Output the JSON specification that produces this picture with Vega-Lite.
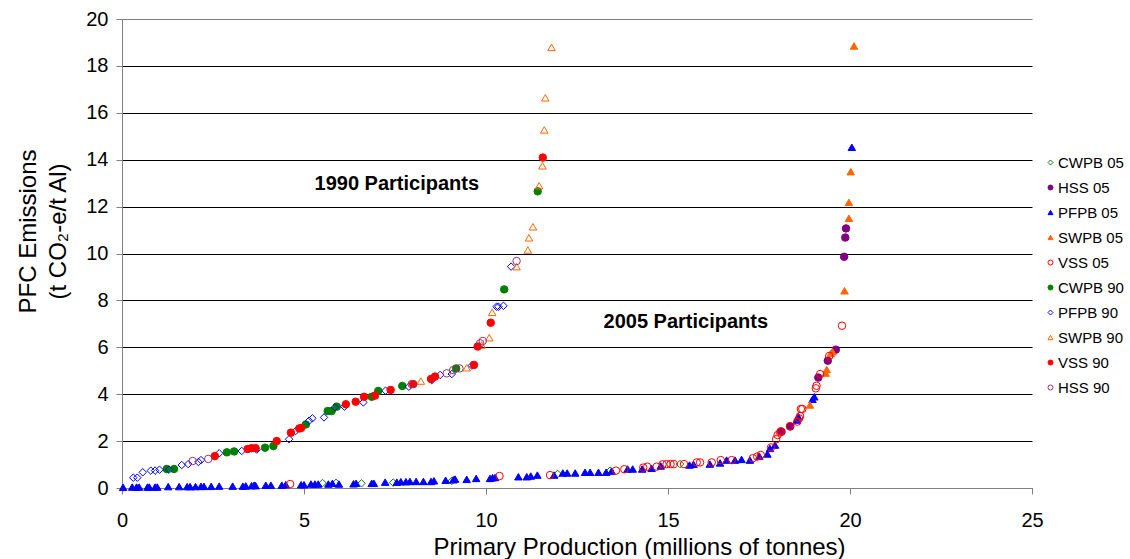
{
  "$schema": "https://vega.github.io/schema/vega-lite/v6.json",
  "width": 910,
  "height": 469,
  "autosize": {"type": "none"},
  "padding": {"left": 122, "top": 19, "right": 98, "bottom": 71},
  "background": "white",
  "config": {
    "view": {"stroke": null},
    "font": "Liberation Sans",
    "axis": {"labelFont": "Liberation Sans", "titleFont": "Liberation Sans", "labelColor": "black", "titleColor": "black"}
  },
  "datasets": {
    "smelters": [
      {"series": "CWPB 05", "production": 5.51, "pfc": 0.21},
      {"series": "CWPB 05", "production": 5.88, "pfc": 0.22},
      {"series": "CWPB 05", "production": 6.58, "pfc": 0.20},
      {"series": "CWPB 05", "production": 7.45, "pfc": 0.23},
      {"series": "CWPB 05", "production": 9.06, "pfc": 0.30},
      {"series": "CWPB 05", "production": 11.97, "pfc": 0.60},
      {"series": "CWPB 05", "production": 13.41, "pfc": 0.74},
      {"series": "CWPB 05", "production": 15.33, "pfc": 1.02},

      {"series": "HSS 05", "production": 18.12, "pfc": 2.40},
      {"series": "HSS 05", "production": 18.36, "pfc": 2.62},
      {"series": "HSS 05", "production": 19.13, "pfc": 4.71},
      {"series": "HSS 05", "production": 19.39, "pfc": 5.43},
      {"series": "HSS 05", "production": 19.61, "pfc": 5.90},
      {"series": "HSS 05", "production": 19.84, "pfc": 9.86},
      {"series": "HSS 05", "production": 19.87, "pfc": 10.68},
      {"series": "HSS 05", "production": 19.89, "pfc": 11.07},

      {"series": "PFPB 05", "production": 0.03, "pfc": 0.03},
      {"series": "PFPB 05", "production": 0.28, "pfc": 0.04},
      {"series": "PFPB 05", "production": 0.40, "pfc": 0.04},
      {"series": "PFPB 05", "production": 0.47, "pfc": 0.04},
      {"series": "PFPB 05", "production": 0.70, "pfc": 0.04},
      {"series": "PFPB 05", "production": 0.75, "pfc": 0.04},
      {"series": "PFPB 05", "production": 0.91, "pfc": 0.04},
      {"series": "PFPB 05", "production": 0.97, "pfc": 0.04},
      {"series": "PFPB 05", "production": 1.27, "pfc": 0.06},
      {"series": "PFPB 05", "production": 1.57, "pfc": 0.06},
      {"series": "PFPB 05", "production": 1.79, "pfc": 0.06},
      {"series": "PFPB 05", "production": 1.87, "pfc": 0.06},
      {"series": "PFPB 05", "production": 2.02, "pfc": 0.06},
      {"series": "PFPB 05", "production": 2.17, "pfc": 0.07},
      {"series": "PFPB 05", "production": 2.25, "pfc": 0.07},
      {"series": "PFPB 05", "production": 2.45, "pfc": 0.07},
      {"series": "PFPB 05", "production": 2.67, "pfc": 0.08},
      {"series": "PFPB 05", "production": 3.04, "pfc": 0.08},
      {"series": "PFPB 05", "production": 3.32, "pfc": 0.08},
      {"series": "PFPB 05", "production": 3.40, "pfc": 0.09},
      {"series": "PFPB 05", "production": 3.56, "pfc": 0.10},
      {"series": "PFPB 05", "production": 3.63, "pfc": 0.12},
      {"series": "PFPB 05", "production": 3.67, "pfc": 0.10},
      {"series": "PFPB 05", "production": 3.95, "pfc": 0.12},
      {"series": "PFPB 05", "production": 4.09, "pfc": 0.12},
      {"series": "PFPB 05", "production": 4.39, "pfc": 0.12},
      {"series": "PFPB 05", "production": 4.50, "pfc": 0.14},
      {"series": "PFPB 05", "production": 4.92, "pfc": 0.14},
      {"series": "PFPB 05", "production": 5.00, "pfc": 0.14},
      {"series": "PFPB 05", "production": 5.19, "pfc": 0.17},
      {"series": "PFPB 05", "production": 5.30, "pfc": 0.17},
      {"series": "PFPB 05", "production": 5.39, "pfc": 0.17},
      {"series": "PFPB 05", "production": 5.67, "pfc": 0.17},
      {"series": "PFPB 05", "production": 5.78, "pfc": 0.20},
      {"series": "PFPB 05", "production": 5.96, "pfc": 0.17},
      {"series": "PFPB 05", "production": 6.36, "pfc": 0.18},
      {"series": "PFPB 05", "production": 6.43, "pfc": 0.20},
      {"series": "PFPB 05", "production": 6.86, "pfc": 0.20},
      {"series": "PFPB 05", "production": 6.92, "pfc": 0.20},
      {"series": "PFPB 05", "production": 7.23, "pfc": 0.25},
      {"series": "PFPB 05", "production": 7.55, "pfc": 0.25},
      {"series": "PFPB 05", "production": 7.66, "pfc": 0.27},
      {"series": "PFPB 05", "production": 7.80, "pfc": 0.27},
      {"series": "PFPB 05", "production": 7.91, "pfc": 0.28},
      {"series": "PFPB 05", "production": 8.08, "pfc": 0.28},
      {"series": "PFPB 05", "production": 8.28, "pfc": 0.28},
      {"series": "PFPB 05", "production": 8.49, "pfc": 0.28},
      {"series": "PFPB 05", "production": 8.57, "pfc": 0.31},
      {"series": "PFPB 05", "production": 8.89, "pfc": 0.33},
      {"series": "PFPB 05", "production": 9.10, "pfc": 0.35},
      {"series": "PFPB 05", "production": 9.15, "pfc": 0.38},
      {"series": "PFPB 05", "production": 9.47, "pfc": 0.37},
      {"series": "PFPB 05", "production": 9.73, "pfc": 0.41},
      {"series": "PFPB 05", "production": 10.11, "pfc": 0.41},
      {"series": "PFPB 05", "production": 10.18, "pfc": 0.44},
      {"series": "PFPB 05", "production": 10.25, "pfc": 0.45},
      {"series": "PFPB 05", "production": 10.89, "pfc": 0.48},
      {"series": "PFPB 05", "production": 11.12, "pfc": 0.48},
      {"series": "PFPB 05", "production": 11.23, "pfc": 0.51},
      {"series": "PFPB 05", "production": 11.41, "pfc": 0.55},
      {"series": "PFPB 05", "production": 11.87, "pfc": 0.55},
      {"series": "PFPB 05", "production": 12.11, "pfc": 0.64},
      {"series": "PFPB 05", "production": 12.23, "pfc": 0.64},
      {"series": "PFPB 05", "production": 12.45, "pfc": 0.64},
      {"series": "PFPB 05", "production": 12.72, "pfc": 0.67},
      {"series": "PFPB 05", "production": 12.86, "pfc": 0.67},
      {"series": "PFPB 05", "production": 13.09, "pfc": 0.67},
      {"series": "PFPB 05", "production": 13.30, "pfc": 0.67},
      {"series": "PFPB 05", "production": 13.45, "pfc": 0.72},
      {"series": "PFPB 05", "production": 13.89, "pfc": 0.81},
      {"series": "PFPB 05", "production": 14.03, "pfc": 0.81},
      {"series": "PFPB 05", "production": 14.29, "pfc": 0.81},
      {"series": "PFPB 05", "production": 14.55, "pfc": 0.84},
      {"series": "PFPB 05", "production": 14.80, "pfc": 0.94},
      {"series": "PFPB 05", "production": 15.59, "pfc": 0.98},
      {"series": "PFPB 05", "production": 15.70, "pfc": 1.01},
      {"series": "PFPB 05", "production": 16.15, "pfc": 1.02},
      {"series": "PFPB 05", "production": 16.43, "pfc": 1.07},
      {"series": "PFPB 05", "production": 16.61, "pfc": 1.19},
      {"series": "PFPB 05", "production": 16.84, "pfc": 1.19},
      {"series": "PFPB 05", "production": 17.02, "pfc": 1.22},
      {"series": "PFPB 05", "production": 17.25, "pfc": 1.19},
      {"series": "PFPB 05", "production": 17.51, "pfc": 1.36},
      {"series": "PFPB 05", "production": 17.73, "pfc": 1.45},
      {"series": "PFPB 05", "production": 17.80, "pfc": 1.69},
      {"series": "PFPB 05", "production": 17.94, "pfc": 1.83},
      {"series": "PFPB 05", "production": 18.54, "pfc": 2.90},
      {"series": "PFPB 05", "production": 18.58, "pfc": 3.04},
      {"series": "PFPB 05", "production": 18.97, "pfc": 3.78},
      {"series": "PFPB 05", "production": 19.02, "pfc": 3.89},
      {"series": "PFPB 05", "production": 20.05, "pfc": 14.53},

      {"series": "SWPB 05", "production": 18.90, "pfc": 3.54},
      {"series": "SWPB 05", "production": 19.33, "pfc": 4.90},
      {"series": "SWPB 05", "production": 19.36, "pfc": 5.05},
      {"series": "SWPB 05", "production": 19.47, "pfc": 5.74},
      {"series": "SWPB 05", "production": 19.52, "pfc": 5.81},
      {"series": "SWPB 05", "production": 19.85, "pfc": 8.41},
      {"series": "SWPB 05", "production": 19.97, "pfc": 11.50},
      {"series": "SWPB 05", "production": 19.97, "pfc": 12.18},
      {"series": "SWPB 05", "production": 20.02, "pfc": 13.49},
      {"series": "SWPB 05", "production": 20.11, "pfc": 18.85},

      {"series": "VSS 05", "production": 4.62, "pfc": 0.17},
      {"series": "VSS 05", "production": 10.37, "pfc": 0.51},
      {"series": "VSS 05", "production": 11.76, "pfc": 0.55},
      {"series": "VSS 05", "production": 13.57, "pfc": 0.74},
      {"series": "VSS 05", "production": 13.80, "pfc": 0.80},
      {"series": "VSS 05", "production": 14.32, "pfc": 0.87},
      {"series": "VSS 05", "production": 14.43, "pfc": 0.91},
      {"series": "VSS 05", "production": 14.69, "pfc": 0.91},
      {"series": "VSS 05", "production": 14.85, "pfc": 1.01},
      {"series": "VSS 05", "production": 14.96, "pfc": 1.02},
      {"series": "VSS 05", "production": 15.07, "pfc": 1.02},
      {"series": "VSS 05", "production": 15.16, "pfc": 1.02},
      {"series": "VSS 05", "production": 15.44, "pfc": 1.02},
      {"series": "VSS 05", "production": 15.79, "pfc": 1.09},
      {"series": "VSS 05", "production": 15.88, "pfc": 1.09},
      {"series": "VSS 05", "production": 16.20, "pfc": 1.09},
      {"series": "VSS 05", "production": 16.45, "pfc": 1.19},
      {"series": "VSS 05", "production": 16.75, "pfc": 1.19},
      {"series": "VSS 05", "production": 17.33, "pfc": 1.27},
      {"series": "VSS 05", "production": 17.45, "pfc": 1.34},
      {"series": "VSS 05", "production": 17.55, "pfc": 1.41},
      {"series": "VSS 05", "production": 17.83, "pfc": 1.73},
      {"series": "VSS 05", "production": 17.97, "pfc": 2.08},
      {"series": "VSS 05", "production": 18.01, "pfc": 2.26},
      {"series": "VSS 05", "production": 18.08, "pfc": 2.37},
      {"series": "VSS 05", "production": 18.10, "pfc": 2.42},
      {"series": "VSS 05", "production": 18.35, "pfc": 2.64},
      {"series": "VSS 05", "production": 18.55, "pfc": 2.83},
      {"series": "VSS 05", "production": 18.60, "pfc": 2.97},
      {"series": "VSS 05", "production": 18.63, "pfc": 3.07},
      {"series": "VSS 05", "production": 18.65, "pfc": 3.37},
      {"series": "VSS 05", "production": 18.69, "pfc": 3.37},
      {"series": "VSS 05", "production": 19.06, "pfc": 4.25},
      {"series": "VSS 05", "production": 19.08, "pfc": 4.36},
      {"series": "VSS 05", "production": 19.18, "pfc": 4.86},
      {"series": "VSS 05", "production": 19.43, "pfc": 5.63},
      {"series": "VSS 05", "production": 19.78, "pfc": 6.92},

      {"series": "CWPB 90", "production": 1.23, "pfc": 0.81},
      {"series": "CWPB 90", "production": 1.43, "pfc": 0.81},
      {"series": "CWPB 90", "production": 2.88, "pfc": 1.52},
      {"series": "CWPB 90", "production": 3.08, "pfc": 1.56},
      {"series": "CWPB 90", "production": 3.93, "pfc": 1.72},
      {"series": "CWPB 90", "production": 4.16, "pfc": 1.79},
      {"series": "CWPB 90", "production": 5.05, "pfc": 2.71},
      {"series": "CWPB 90", "production": 5.65, "pfc": 3.28},
      {"series": "CWPB 90", "production": 5.76, "pfc": 3.28},
      {"series": "CWPB 90", "production": 5.90, "pfc": 3.47},
      {"series": "CWPB 90", "production": 6.86, "pfc": 3.89},
      {"series": "CWPB 90", "production": 7.04, "pfc": 4.14},
      {"series": "CWPB 90", "production": 7.70, "pfc": 4.35},
      {"series": "CWPB 90", "production": 9.18, "pfc": 5.10},
      {"series": "CWPB 90", "production": 10.50, "pfc": 8.47},
      {"series": "CWPB 90", "production": 11.42, "pfc": 12.65},

      {"series": "PFPB 90", "production": 0.31, "pfc": 0.44},
      {"series": "PFPB 90", "production": 0.42, "pfc": 0.44},
      {"series": "PFPB 90", "production": 0.57, "pfc": 0.67},
      {"series": "PFPB 90", "production": 0.79, "pfc": 0.74},
      {"series": "PFPB 90", "production": 0.91, "pfc": 0.74},
      {"series": "PFPB 90", "production": 1.03, "pfc": 0.78},
      {"series": "PFPB 90", "production": 1.29, "pfc": 0.78},
      {"series": "PFPB 90", "production": 1.64, "pfc": 0.98},
      {"series": "PFPB 90", "production": 1.82, "pfc": 1.02},
      {"series": "PFPB 90", "production": 2.10, "pfc": 1.11},
      {"series": "PFPB 90", "production": 2.17, "pfc": 1.19},
      {"series": "PFPB 90", "production": 2.67, "pfc": 1.48},
      {"series": "PFPB 90", "production": 3.29, "pfc": 1.58},
      {"series": "PFPB 90", "production": 3.70, "pfc": 1.64},
      {"series": "PFPB 90", "production": 4.59, "pfc": 2.08},
      {"series": "PFPB 90", "production": 4.77, "pfc": 2.43},
      {"series": "PFPB 90", "production": 5.14, "pfc": 2.87},
      {"series": "PFPB 90", "production": 5.23, "pfc": 2.97},
      {"series": "PFPB 90", "production": 5.55, "pfc": 3.01},
      {"series": "PFPB 90", "production": 5.85, "pfc": 3.44},
      {"series": "PFPB 90", "production": 6.11, "pfc": 3.47},
      {"series": "PFPB 90", "production": 6.63, "pfc": 3.65},
      {"series": "PFPB 90", "production": 7.24, "pfc": 4.15},
      {"series": "PFPB 90", "production": 7.88, "pfc": 4.32},
      {"series": "PFPB 90", "production": 8.51, "pfc": 4.60},
      {"series": "PFPB 90", "production": 8.74, "pfc": 4.82},
      {"series": "PFPB 90", "production": 9.06, "pfc": 4.86},
      {"series": "PFPB 90", "production": 9.61, "pfc": 5.22},
      {"series": "PFPB 90", "production": 10.29, "pfc": 7.73},
      {"series": "PFPB 90", "production": 10.34, "pfc": 7.73},
      {"series": "PFPB 90", "production": 10.48, "pfc": 7.77},
      {"series": "PFPB 90", "production": 10.69, "pfc": 9.44},

      {"series": "SWPB 90", "production": 8.21, "pfc": 4.56},
      {"series": "SWPB 90", "production": 9.47, "pfc": 5.13},
      {"series": "SWPB 90", "production": 9.88, "pfc": 6.10},
      {"series": "SWPB 90", "production": 10.09, "pfc": 6.41},
      {"series": "SWPB 90", "production": 10.17, "pfc": 7.49},
      {"series": "SWPB 90", "production": 10.84, "pfc": 9.44},
      {"series": "SWPB 90", "production": 11.15, "pfc": 10.15},
      {"series": "SWPB 90", "production": 11.18, "pfc": 10.67},
      {"series": "SWPB 90", "production": 11.29, "pfc": 11.14},
      {"series": "SWPB 90", "production": 11.46, "pfc": 12.89},
      {"series": "SWPB 90", "production": 11.55, "pfc": 13.74},
      {"series": "SWPB 90", "production": 11.60, "pfc": 15.27},
      {"series": "SWPB 90", "production": 11.63, "pfc": 16.64},
      {"series": "SWPB 90", "production": 11.80, "pfc": 18.79},

      {"series": "VSS 90", "production": 2.55, "pfc": 1.36},
      {"series": "VSS 90", "production": 3.45, "pfc": 1.66},
      {"series": "VSS 90", "production": 3.56, "pfc": 1.70},
      {"series": "VSS 90", "production": 3.67, "pfc": 1.70},
      {"series": "VSS 90", "production": 4.25, "pfc": 2.00},
      {"series": "VSS 90", "production": 4.64, "pfc": 2.36},
      {"series": "VSS 90", "production": 4.87, "pfc": 2.54},
      {"series": "VSS 90", "production": 4.92, "pfc": 2.56},
      {"series": "VSS 90", "production": 6.15, "pfc": 3.57},
      {"series": "VSS 90", "production": 6.42, "pfc": 3.68},
      {"series": "VSS 90", "production": 6.65, "pfc": 3.89},
      {"series": "VSS 90", "production": 6.95, "pfc": 3.94},
      {"series": "VSS 90", "production": 7.38, "pfc": 4.18},
      {"series": "VSS 90", "production": 8.00, "pfc": 4.43},
      {"series": "VSS 90", "production": 8.49, "pfc": 4.65},
      {"series": "VSS 90", "production": 8.60, "pfc": 4.75},
      {"series": "VSS 90", "production": 9.67, "pfc": 5.25},
      {"series": "VSS 90", "production": 9.77, "pfc": 6.03},
      {"series": "VSS 90", "production": 10.13, "pfc": 7.05},
      {"series": "VSS 90", "production": 11.56, "pfc": 14.09},

      {"series": "HSS 90", "production": 1.94, "pfc": 1.15},
      {"series": "HSS 90", "production": 2.37, "pfc": 1.24},
      {"series": "HSS 90", "production": 7.96, "pfc": 4.43},
      {"series": "HSS 90", "production": 8.92, "pfc": 4.89},
      {"series": "HSS 90", "production": 9.10, "pfc": 5.03},
      {"series": "HSS 90", "production": 9.27, "pfc": 5.10},
      {"series": "HSS 90", "production": 9.84, "pfc": 6.17},
      {"series": "HSS 90", "production": 9.91, "pfc": 6.27},
      {"series": "HSS 90", "production": 10.84, "pfc": 9.68}
    ],
    "notes": [
      {"label": "1990 Participants", "production": 7.55, "pfc": 12.96},
      {"label": "2005 Participants", "production": 15.49, "pfc": 7.08}
    ]
  },
  "layer": [
    {
      "data": {"name": "smelters"},
      "mark": {"type": "point", "size": 56, "strokeWidth": 1, "opacity": 1},
      "encoding": {
        "x": {
          "field": "production",
          "type": "quantitative",
          "scale": {"domain": [0, 25], "nice": false, "zero": false},
          "axis": {
            "values": [0, 5, 10, 15, 20, 25],
            "grid": false,
            "labelFlush": false,
            "domainColor": "#808080",
            "tickColor": "#808080",
            "tickSize": 6,
            "labelFontSize": 20,
            "labelPadding": 16,
            "title": "Primary Production (millions of tonnes)",
            "titleFontSize": 24,
            "titleFontWeight": "normal",
            "titleX": 517,
            "titleY": 66,
            "titleAlign": "center",
            "titleBaseline": "alphabetic"
          }
        },
        "y": {
          "field": "pfc",
          "type": "quantitative",
          "scale": {"domain": [0, 20], "nice": false, "zero": false},
          "axis": {
            "values": [0, 2, 4, 6, 8, 10, 12, 14, 16, 18, 20],
            "grid": true,
            "labelFlush": false,
            "gridColor": {"condition": {"test": "datum.value === 20", "value": "#808080"}, "value": "black"},
            "gridWidth": 1,
            "domainColor": "#808080",
            "tickColor": "#808080",
            "tickSize": 6,
            "labelFontSize": 20,
            "labelPadding": 8,
            "title": ["PFC Emissions", "(t CO₂-e/t Al)"],
            "titleFontSize": 24,
            "titleFontWeight": "normal",
            "titleAngle": -90,
            "titleLineHeight": 30,
            "titleX": -94,
            "titleY": 212,
            "titleAlign": "center",
            "titleBaseline": "middle"
          }
        },
        "shape": {
          "field": "series",
          "type": "nominal",
          "scale": {
            "domain": ["CWPB 05", "HSS 05", "PFPB 05", "SWPB 05", "VSS 05", "CWPB 90", "PFPB 90", "SWPB 90", "VSS 90", "HSS 90"],
            "range": ["diamond", "circle", "triangle-up", "triangle-up", "circle", "circle", "diamond", "triangle-up", "circle", "circle"]
          },
          "legend": {"title": null, "orient": "none", "legendX": 921, "legendY": 136, "padding": 0, "symbolSize": 25, "symbolStrokeWidth": 1, "labelFontSize": 15, "labelFont": "Liberation Sans", "labelColor": "black", "rowPadding": 9, "labelOffset": 0}
        },
        "stroke": {
          "field": "series",
          "type": "nominal",
          "scale": {
            "domain": ["CWPB 05", "HSS 05", "PFPB 05", "SWPB 05", "VSS 05", "CWPB 90", "PFPB 90", "SWPB 90", "VSS 90", "HSS 90"],
            "range": ["#008000", "#800080", "#0000FF", "#FF6600", "#FF0000", "#008000", "#0000FF", "#FF6600", "#FF0000", "#993366"]
          },
          "legend": {"title": null, "orient": "none", "legendX": 921, "legendY": 136, "padding": 0, "symbolSize": 25, "symbolStrokeWidth": 1, "labelFontSize": 15, "labelFont": "Liberation Sans", "labelColor": "black", "rowPadding": 9, "labelOffset": 0}
        },
        "fill": {
          "field": "series",
          "type": "nominal",
          "scale": {
            "domain": ["CWPB 05", "HSS 05", "PFPB 05", "SWPB 05", "VSS 05", "CWPB 90", "PFPB 90", "SWPB 90", "VSS 90", "HSS 90"],
            "range": ["transparent", "#800080", "#0000FF", "#FF6600", "transparent", "#008000", "transparent", "transparent", "#FF0000", "transparent"]
          },
          "legend": {"title": null, "orient": "none", "legendX": 921, "legendY": 136, "padding": 0, "symbolSize": 25, "symbolStrokeWidth": 1, "labelFontSize": 15, "labelFont": "Liberation Sans", "labelColor": "black", "rowPadding": 9, "labelOffset": 0}
        }
      }
    },
    {
      "data": {"name": "notes"},
      "mark": {"type": "text", "font": "Liberation Sans", "fontSize": 20, "fontWeight": "bold", "align": "center", "baseline": "middle", "color": "black"},
      "encoding": {
        "x": {"field": "production", "type": "quantitative"},
        "y": {"field": "pfc", "type": "quantitative"},
        "text": {"field": "label", "type": "nominal"}
      }
    }
  ]
}
